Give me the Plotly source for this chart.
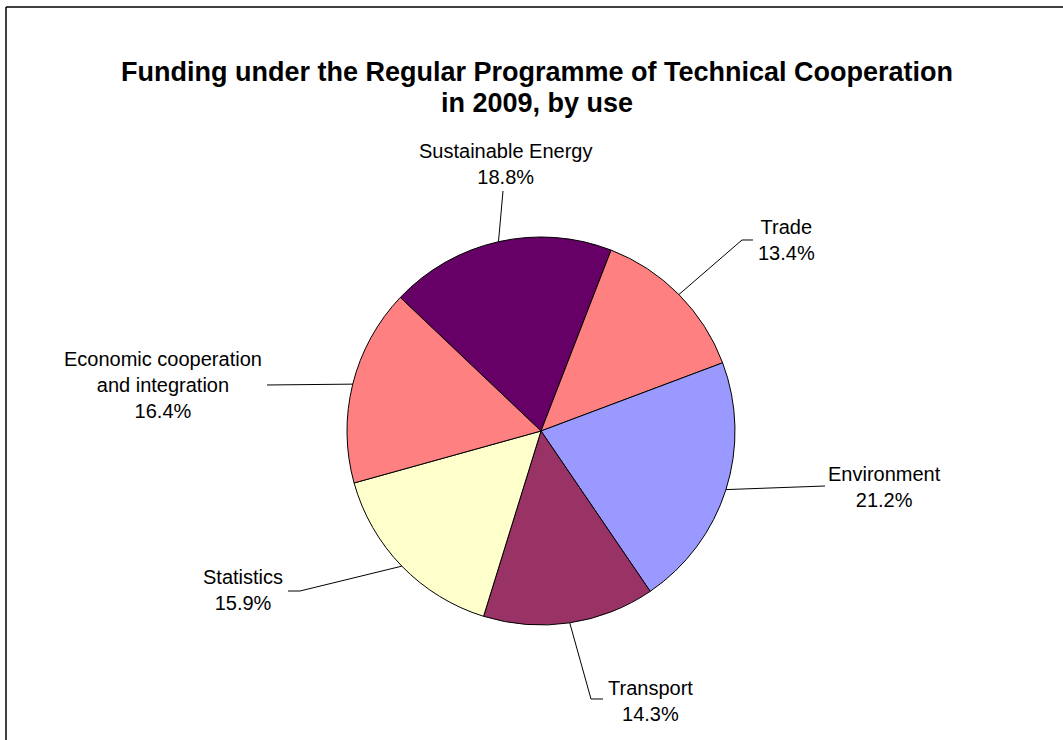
import math
import plotly.graph_objects as go

# ---- data ----
categories = ["Sustainable Energy", "Trade", "Environment", "Transport",
              "Statistics", "Economic cooperation and integration"]
shares = [18.8, 13.4, 21.2, 14.3, 15.9, 16.4]
label_text = ["Sustainable Energy", "Trade", "Environment", "Transport",
              "Statistics", "Economic cooperation<br>and integration"]
title_lines = ["Funding under the Regular Programme of Technical Cooperation",
               "in 2009, by use"]
colors = ["#660066", "#FF8080", "#9999FF", "#993366", "#FFFFCC", "#FF8080"]

# ---- layout parameters (pixels, page coordinates) ----
W, H = 1063, 740
CX, CY, R = 541, 431, 194
ROTATION = -46.5  # start angle of first slice, degrees clockwise from 12 o'clock

label_pos = [(505, 164), (786, 240), (884, 487), (650, 701), (243, 590), (163, 385)]
leader_pts = [
    [(503, 191)],
    [(742, 240), (753, 240)],
    [(825, 486)],
    [(591, 699), (603, 699)],
    [(300, 591), (288, 591)],
    [(267, 385)],
]
title_pos = [(537, 72), (537, 103)]

FONT = "Arial, Liberation Sans, sans-serif"


def px(x):
    return x / W


def py(y):
    return 1 - y / H


fig = go.Figure(go.Pie(
    labels=categories,
    values=shares,
    sort=False,
    direction="clockwise",
    rotation=ROTATION,
    marker=dict(colors=colors, line=dict(color="black", width=1)),
    textinfo="none",
    hoverinfo="label+percent",
    showlegend=False,
    domain=dict(x=[px(CX - R), px(CX + R)], y=[py(CY + R), py(CY - R)]),
))

total = sum(shares)
annotations = []
shapes = []
start = ROTATION
for i, v in enumerate(shares):
    sweep = 360.0 * v / total
    mid = math.radians(start + sweep / 2)
    start += sweep
    ex = CX + R * math.sin(mid)
    ey = CY - R * math.cos(mid)
    pts = [(ex, ey)] + leader_pts[i]
    path = "M " + " L ".join(f"{px(a):.5f},{py(b):.5f}" for a, b in pts)
    shapes.append(dict(type="path", xref="paper", yref="paper", path=path,
                       line=dict(color="black", width=1)))
    lx, ly = label_pos[i]
    annotations.append(dict(
        x=px(lx), y=py(ly), xref="paper", yref="paper",
        text=f"{label_text[i]}<br>{v:.1f}%",
        showarrow=False, xanchor="center", yanchor="middle", align="center",
        font=dict(family=FONT, size=20, color="black"),
    ))

for (tx, ty), t in zip(title_pos, title_lines):
    annotations.append(dict(
        x=px(tx), y=py(ty), xref="paper", yref="paper",
        text=f"<b>{t}</b>", showarrow=False, xanchor="center", yanchor="middle",
        font=dict(family=FONT, size=27, color="black"),
    ))

# chart-area border (left and top edges visible)
shapes.append(dict(type="line", xref="paper", yref="paper",
                   x0=px(6), y0=py(7), x1=px(W + 20), y1=py(7),
                   line=dict(color="black", width=1.5)))
shapes.append(dict(type="line", xref="paper", yref="paper",
                   x0=px(6), y0=py(7), x1=px(6), y1=py(H + 20),
                   line=dict(color="black", width=1.5)))

fig.update_layout(
    width=W, height=H,
    margin=dict(l=0, r=0, t=0, b=0),
    paper_bgcolor="white", plot_bgcolor="white",
    annotations=annotations,
    shapes=shapes,
)

fig.write_html(
    "out.html",
    config={"displayModeBar": False},
    post_script="document.body.style.margin='0px';document.body.style.overflow='hidden';",
)
